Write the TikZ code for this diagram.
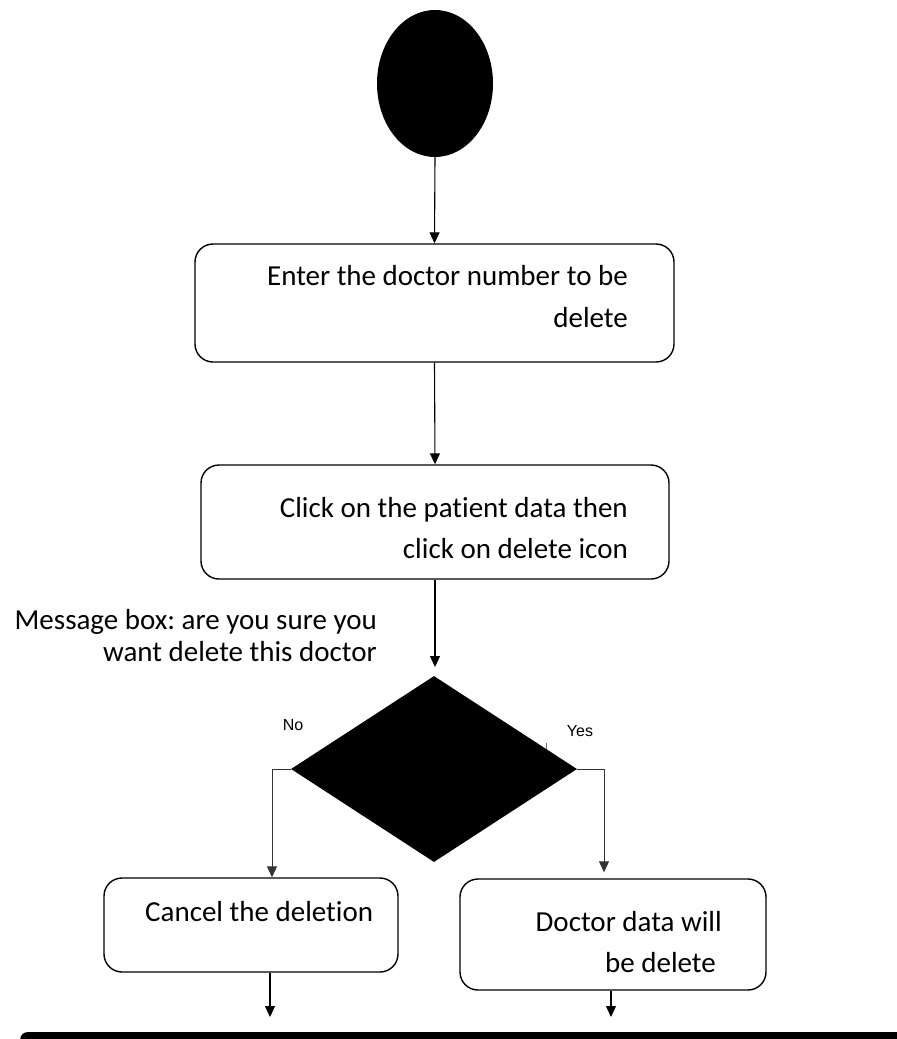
\documentclass[tikz,border=0pt]{standalone}
\usepackage{fontspec}
\setmainfont{Carlito}[Ligatures=NoCommon]
\newfontfamily\arialfont{Liberation Sans}
\usetikzlibrary{shapes.geometric,arrows.meta,calc}
\frenchspacing

\begin{document}
\begin{tikzpicture}[x=1pt,y=-1pt,
  box/.style={draw,line width=1.4pt,rounded corners=18pt,inner sep=0pt},
  flow/.style={line width=1.1pt,-{Triangle[width=10pt,length=11pt]}},
  branch/.style={line width=0.9pt,draw=black!80,-{Triangle[width=10pt,length=11pt]}},
  txt/.style={font=\fontsize{29}{41}\selectfont,inner sep=0pt,anchor=base east},
  yn/.style={font=\arialfont\fontsize{16}{19}\selectfont,inner sep=0pt}]
\useasboundingbox (0,0) rectangle (897,1039);

% start state
\node[ellipse,fill=black,minimum width=116pt,minimum height=147pt,inner sep=0pt] (start) at (435,83.5) {};

% activity boxes
\node[box,minimum width=479pt,minimum height=118pt] (enter) at (434.5,303) {};
\node[txt] (enterA) at (628,285) {Enter the doctor number to be};
\node[txt] (enterB) at (628,327) {delete};

\node[box,minimum width=468pt,minimum height=114pt] (click) at (435,522) {};
\node[txt] (clickA) at (628,517) {Click on the patient data then};
\node[txt] (clickB) at (628,558) {click on delete icon};

% question text
\node[txt] (msgA) at (377,629) {Message box: are you sure you};
\node[txt] (msgB) at (377,661) {want delete this doctor};

% decision
\node[diamond,fill=black,minimum width=286pt,minimum height=186pt,inner sep=0pt] (dec) at (434,769) {};
\coordinate (ask) at (435,667);
\node[yn] (no) at (293,725) {No};
\node[yn] (yes) at (580,731) {Yes};
\draw[line width=0.7pt,black!60] (546,743) -- (546,749);

% outcomes
\node[box,minimum width=294pt,minimum height=94pt] (cancel) at (251,925) {};
\node[txt,anchor=base west] (cancelT) at (145,921) {Cancel the deletion};

\node[box,minimum width=306pt,minimum height=111pt] (done) at (613,934.5) {};
\node[txt] (doneA) at (722,931) {Doctor data will};
\node[txt] (doneB) at (716,972) {be delete};

% connectors
\draw[flow] (start.south) -- (enter.north);
\draw[flow] (enter.south) -- (click.north);
\draw[flow] (click.south) -- (ask);
\draw[branch] (dec.west) -| ($(cancel.north)+(21,0)$);
\draw[branch] (dec.east) -| ($(done.north)+(-9,-6)$);

\coordinate (endL) at (270,1017);
\coordinate (endR) at (611,1017);
\draw[flow] ($(cancel.south)+(19,0)$) -- (endL);
\draw[flow] ($(done.south)+(-2,0)$) -- (endR);

% final bar
\coordinate (barL) at (28,1040);
\coordinate (barR) at (920,1040);
\begin{scope}
  \clip (0,0) rectangle (897,1039);
  \draw[line width=16pt,line cap=round] (barL) -- (barR);
\end{scope}
\end{tikzpicture}
\end{document}
